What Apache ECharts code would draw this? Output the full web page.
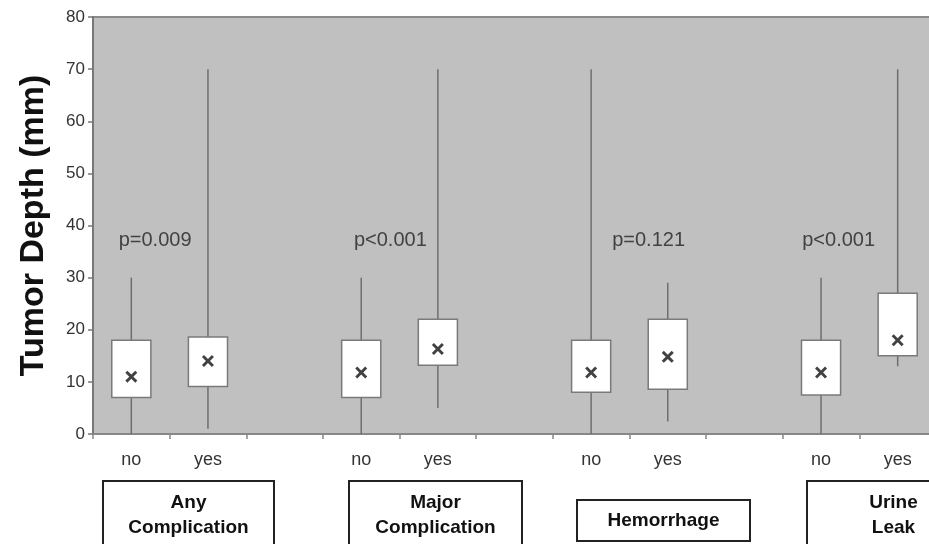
<!DOCTYPE html>
<html><head><meta charset="utf-8">
<script src="https://cdn.jsdelivr.net/npm/echarts@6/dist/echarts.min.js"></script>
<style>html,body{margin:0;padding:0;background:#fff}#c{width:929px;height:544px}</style>
</head><body><div id="c"></div>
<script>
// ---- data ----
const categories = ['no','yes','','no','yes','','no','yes','','no','yes'];
const groupNames = ['Any\nComplication','Major\nComplication','Hemorrhage','Urine\nLeak'];
const boxCategoryIndex = [0, 1, 3, 4, 6, 7, 9, 10];
const whiskerMin = [0, 1, 0, 5, 0, 2.4, 0, 13];
const boxLow     = [7, 9.1, 7, 13.2, 8, 8.6, 7.5, 15];
const boxHigh    = [18, 18.6, 18, 22, 18, 22, 18, 27];
const whiskerMax = [30, 70, 30, 70, 70, 29, 30, 70];
const means      = [11, 14, 11.8, 16.3, 11.8, 14.8, 11.8, 18];
const pLabels = ['p=0.009', 'p<0.001', 'p=0.121', 'p<0.001'];
const pPosX   = [0.81, 3.88, 7.25, 9.73];
const pPosY   = [37.2, 37.2, 37.2, 37.2];
const yMin = 0, yMax = 80, yInterval = 10;
const yTitle = 'Tumor Depth (mm)';

// ---- build ----
const boxData = boxCategoryIndex.map((c, i) => [c, whiskerMin[i], boxLow[i], boxHigh[i], whiskerMax[i]]);
const meanData = boxCategoryIndex.map((c, i) => [c, means[i]]);
const pData = pLabels.map((t, i) => ({ value: [pPosX[i], pPosY[i]], name: t }));

const FONT = '"Liberation Sans", Arial, sans-serif';
const xMark = 'path://M0,1.7 L1.7,0 L5,3.3 L8.3,0 L10,1.7 L6.7,5 L10,8.3 L8.3,10 L5,6.7 L1.7,10 L0,8.3 L3.3,5 Z';

const chart = echarts.init(document.getElementById('c'), null, { renderer: 'canvas' });

const groupLayout = [
  { x: 102, y: 480, w: 171, h: 80 },
  { x: 348, y: 480, w: 173, h: 80 },
  { x: 576, y: 499, w: 173, h: 41 },
  { x: 806, y: 480, w: 173, h: 80 }
];
const textCenterY = [514, 514, 520, 514];
const graphics = groupNames.map((name, i) => {
  const g = groupLayout[i];
  return {
    type: 'group', left: g.x, top: g.y,
    children: [
      { type: 'rect', shape: { x: 0, y: 0, width: g.w, height: g.h },
        style: { fill: '#fff', stroke: '#222', lineWidth: 2 } },
      { type: 'text', x: g.w / 2, y: textCenterY[i] - g.y,
        style: { text: name, font: 'bold 19px ' + FONT, fill: '#111',
                 align: 'center', verticalAlign: 'middle', lineHeight: 25 } }
    ]
  };
});

chart.setOption({
  animation: false,
  backgroundColor: '#fff',
  grid: { left: 93, top: 17, width: 843, height: 417, show: true,
          outerBoundsMode: 'none', containLabel: false,
          backgroundColor: '#c0c0c0', borderColor: '#8a8a8a', borderWidth: 2 },
  xAxis: [
    { type: 'category', data: categories, boundaryGap: true,
      axisLine: { show: true, lineStyle: { color: '#888', width: 2 } },
      axisTick: { show: true, length: 5, interval: 0, lineStyle: { color: '#888', width: 1.5 } },
      axisLabel: { interval: 0, fontSize: 18, color: '#333', margin: 17, fontFamily: FONT },
      splitLine: { show: false } },
    { type: 'value', min: 0, max: 11, show: false }
  ],
  yAxis: {
    type: 'value', min: yMin, max: yMax, interval: yInterval,
    name: yTitle, nameLocation: 'middle', nameGap: 42,
    nameTextStyle: { fontSize: 34, fontWeight: 'bold', color: '#111', fontFamily: FONT },
    axisLine: { show: true, lineStyle: { color: '#777', width: 2 } },
    axisTick: { show: true, length: 5, lineStyle: { color: '#777', width: 1.5 } },
    axisLabel: { fontSize: 17, color: '#333', margin: 8, fontFamily: FONT },
    splitLine: { show: false }
  },
  series: [
    { type: 'custom', xAxisIndex: 0, data: boxData, encode: { x: 0, y: [1, 2, 3, 4] },
      renderItem: function (params, api) {
        const x = api.value(0);
        const lo = api.coord([x, api.value(1)]);
        const q1 = api.coord([x, api.value(2)]);
        const q3 = api.coord([x, api.value(3)]);
        const hi = api.coord([x, api.value(4)]);
        const bw = api.size([1, 0])[0] * 0.51;
        return { type: 'group', children: [
          { type: 'line', shape: { x1: lo[0], y1: lo[1], x2: hi[0], y2: hi[1] },
            style: { stroke: '#6e6e6e', lineWidth: 1.5 } },
          { type: 'rect', shape: { x: q3[0] - bw / 2, y: q3[1], width: bw, height: q1[1] - q3[1] },
            style: { fill: '#fff', stroke: '#7a7a7a', lineWidth: 1.5 } }
        ] };
      } },
    { type: 'scatter', xAxisIndex: 0, data: meanData, symbol: xMark, symbolSize: 12,
      itemStyle: { color: '#111' }, z: 5 },
    { type: 'scatter', xAxisIndex: 1, data: pData, symbolSize: 0,
      label: { show: true, position: 'inside', formatter: '{b}', fontSize: 20,
               color: '#222', fontFamily: FONT } }
  ],
  graphic: graphics
});
</script></body></html>
